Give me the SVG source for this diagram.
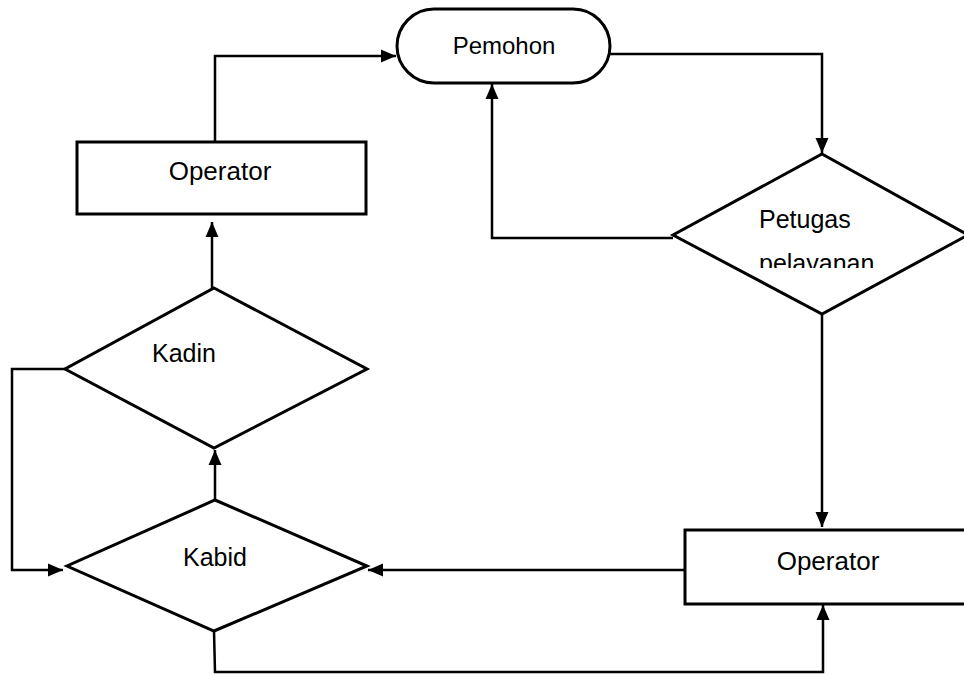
<svg xmlns="http://www.w3.org/2000/svg" width="964" height="675" viewBox="0 0 964 675">
<style>
.shape{fill:#fff;stroke:#000;stroke-width:3}
.conn{fill:none;stroke:#000;stroke-width:2.5}
.lbl{font-family:"Liberation Sans",Arial,sans-serif;font-size:25px;fill:#000}
</style>
<defs>
<marker id="ah" markerUnits="userSpaceOnUse" markerWidth="16" markerHeight="14" viewBox="0 0 16 14" refX="15" refY="7" orient="auto">
<path d="M0,0.5 L15,7 L0,13.5 Z" fill="#000"/>
</marker>
<clipPath id="pclip"><rect x="640" y="140" width="324" height="128"/></clipPath>
</defs>
<rect width="964" height="675" fill="#fff"/>
<g id="connectors">
<polyline class="conn" points="215,142 215,56 396,56" marker-end="url(#ah)"/>
<polyline class="conn" points="610,54 822,54 822,153" marker-end="url(#ah)"/>
<polyline class="conn" points="673,238 492,238 492,84" marker-end="url(#ah)"/>
<line class="conn" x1="822" y1="315" x2="822" y2="527" marker-end="url(#ah)"/>
<line class="conn" x1="685" y1="570" x2="368" y2="570" marker-end="url(#ah)"/>
<polyline class="conn" points="214,631 215,672 823,672 823,605" marker-end="url(#ah)"/>
<polyline class="conn" points="65,369 12,369 12,570 63,570" marker-end="url(#ah)"/>
<line class="conn" x1="215" y1="500" x2="215" y2="450" marker-end="url(#ah)"/>
<line class="conn" x1="212" y1="290" x2="212" y2="222" marker-end="url(#ah)"/>
</g>
<g id="pemohon">
<rect class="shape" x="397" y="9" width="213" height="74" rx="37" ry="37"/>
<text class="lbl" x="504" y="54" text-anchor="middle" style="font-size:24px">Pemohon</text>
</g>
<g id="petugas">
<polygon class="shape" points="822,154 968,235 822,314 673,235"/>
<g clip-path="url(#pclip)">
<text class="lbl" x="759" y="228">Petugas</text>
<text class="lbl" x="759" y="272">pelayanan</text>
</g>
</g>
<g id="operator-kiri">
<rect class="shape" x="77" y="142" width="289" height="72"/>
<text class="lbl" x="220" y="180" text-anchor="middle" style="font-size:26px">Operator</text>
</g>
<g id="kadin">
<polygon class="shape" points="214,288 367,369 214,448 65,369"/>
<text class="lbl" x="152" y="362">Kadin</text>
</g>
<g id="kabid">
<polygon class="shape" points="215,500 367,566 214,631 67,566"/>
<text class="lbl" x="183" y="566">Kabid</text>
</g>
<g id="operator-kanan">
<rect class="shape" x="685" y="530" width="285" height="74"/>
<text class="lbl" x="828" y="570" text-anchor="middle" style="font-size:26px">Operator</text>
</g>
</svg>
